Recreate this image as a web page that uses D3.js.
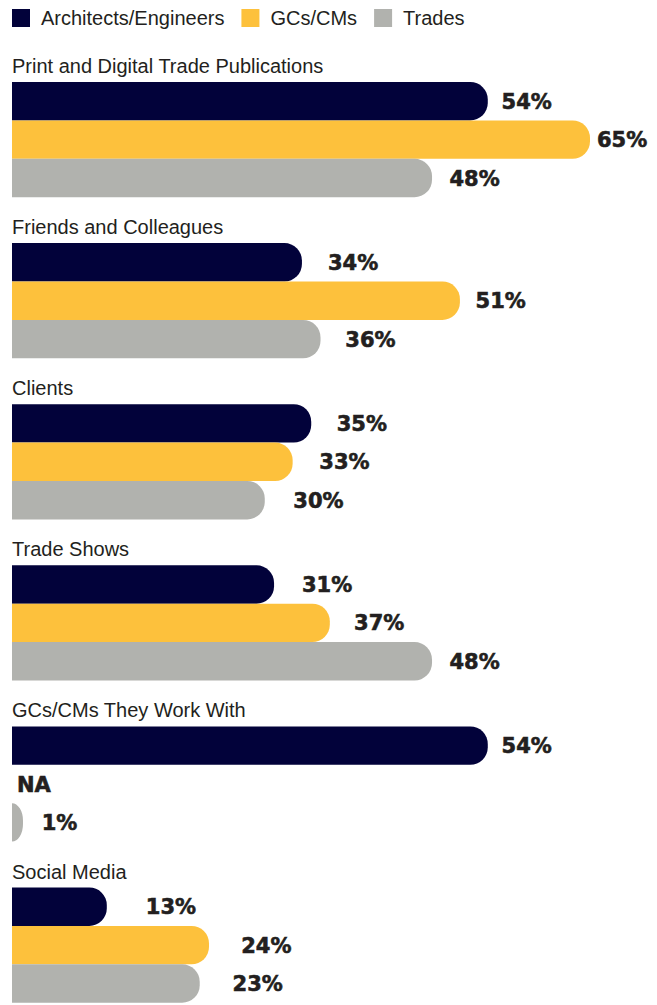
<!DOCTYPE html>
<html>
<head>
<meta charset="utf-8">
<script src="https://cdn.jsdelivr.net/npm/d3@7"></script>
<style>
  html, body { margin: 0; padding: 0; background: #ffffff; }
  svg { display: block; }
</style>
</head>
<body>
<svg id="chart" width="657" height="1005"></svg>
<script>
// ---- data ----
const categories = [
  "Print and Digital Trade Publications",
  "Friends and Colleagues",
  "Clients",
  "Trade Shows",
  "GCs/CMs They Work With",
  "Social Media"
];
const seriesNames = ["Architects/Engineers", "GCs/CMs", "Trades"];
const architectsEngineers = [54, 34, 35, 31, 54, 13];
const gcsCms = [65, 51, 33, 37, null, 24];
const trades = [48, 36, 30, 48, 1, 23];
const seriesColors = ["#02023a", "#fdc13c", "#b1b2ae"];
const naLabel = "NA";

// ---- setup ----
const svg = d3.select("#chart");
const textColor = "#231f20";
const seriesValues = [architectsEngineers, gcsCms, trades];

// detect narrow font availability
function measure(font, str) {
  const t = svg.append("text").attr("font-family", font).attr("font-size", 20).text(str);
  const w = t.node().getComputedTextLength();
  t.remove();
  return w;
}
const probe = "Print and Digital Trade Publications";
const wNarrow = measure("'Liberation Sans Narrow', 'Arial Narrow', 'Liberation Sans'", probe);
const wReg = measure("'Liberation Sans'", probe);
const hasNarrow = wNarrow < wReg * 0.95;
const labelFont = hasNarrow ? "'Liberation Sans Narrow', 'Arial Narrow', 'Liberation Sans'" : "'Liberation Sans', Arial, sans-serif";
const labelSpacing = hasNarrow ? 1.7 : 0;
const labelSize = 20;

const valueFont = "'DejaVu Sans', 'Liberation Sans', sans-serif";
const valueSize = 21;

// scales
const left = 12;
const groupStep = 161.1;
const y = d3.scaleBand().domain(categories).range([82, 82 + groupStep * categories.length]).paddingInner(0).paddingOuter(0);
const barH = 38.4;
const yInner = d3.scaleBand().domain(seriesNames).range([0, barH * 3]);
const x = d3.scaleLinear().domain([0, 65]).range([-14, 590]);
const xLabel = d3.scaleLinear().domain([0, 65]).range([33, 597]);
const color = d3.scaleOrdinal().domain(seriesNames).range(seriesColors);
const minBarW = 11;
const radius = 17.5;

function barPath(x0, x1, y0, h) {
  const w = x1 - x0;
  const rx = Math.min(radius, w);
  const ry = Math.min(radius, h / 2);
  const y1 = y0 + h;
  return `M${x0},${y0}H${x1 - rx}A${rx},${ry} 0 0 1 ${x1},${y0 + ry}V${y1 - ry}A${rx},${ry} 0 0 1 ${x1 - rx},${y1}H${x0}Z`;
}

// ---- legend ----
const legend = svg.append("g");
let lx = left;
seriesNames.forEach((name) => {
  legend.append("rect").attr("x", lx).attr("y", 9).attr("width", 18).attr("height", 18).attr("fill", color(name));
  const t = legend.append("text")
    .attr("x", lx + 29).attr("y", 25)
    .attr("font-family", labelFont).attr("font-size", labelSize)
    .attr("letter-spacing", labelSpacing)
    .attr("fill", textColor).text(name);
  lx = lx + 29 + t.node().getComputedTextLength() + 17;
});

// ---- groups ----
const rows = [];
categories.forEach((cat, gi) => {
  seriesNames.forEach((s, si) => {
    rows.push({ cat, series: s, value: seriesValues[si][gi] });
  });
});

const groups = svg.selectAll("g.group").data(categories).join("g")
  .attr("class", "group")
  .attr("transform", d => `translate(0,${y(d)})`);

groups.append("text")
  .attr("x", left).attr("y", -9)
  .attr("font-family", labelFont).attr("font-size", labelSize)
  .attr("letter-spacing", labelSpacing)
  .attr("fill", textColor)
  .text(d => d);

groups.each(function(cat) {
  const g = d3.select(this);
  const data = rows.filter(r => r.cat === cat);
  g.selectAll("path.bar").data(data.filter(d => d.value != null)).join("path")
    .attr("class", "bar")
    .attr("fill", d => color(d.series))
    .attr("d", d => barPath(left, Math.max(x(d.value), left + minBarW), yInner(d.series), yInner.bandwidth()));
  g.selectAll("text.val").data(data).join("text")
    .attr("class", "val")
    .attr("x", d => d.value == null ? left + 5 : xLabel(d.value))
    .attr("y", d => yInner(d.series) + yInner.bandwidth() / 2)
    .attr("dy", "0.36em")
    .attr("font-family", valueFont).attr("font-size", valueSize).attr("font-weight", "bold")
    .attr("fill", textColor)
    .attr("stroke", textColor).attr("stroke-width", 0.6)
    .text(d => d.value == null ? naLabel : d.value + "%");
});
</script>
</body>
</html>
